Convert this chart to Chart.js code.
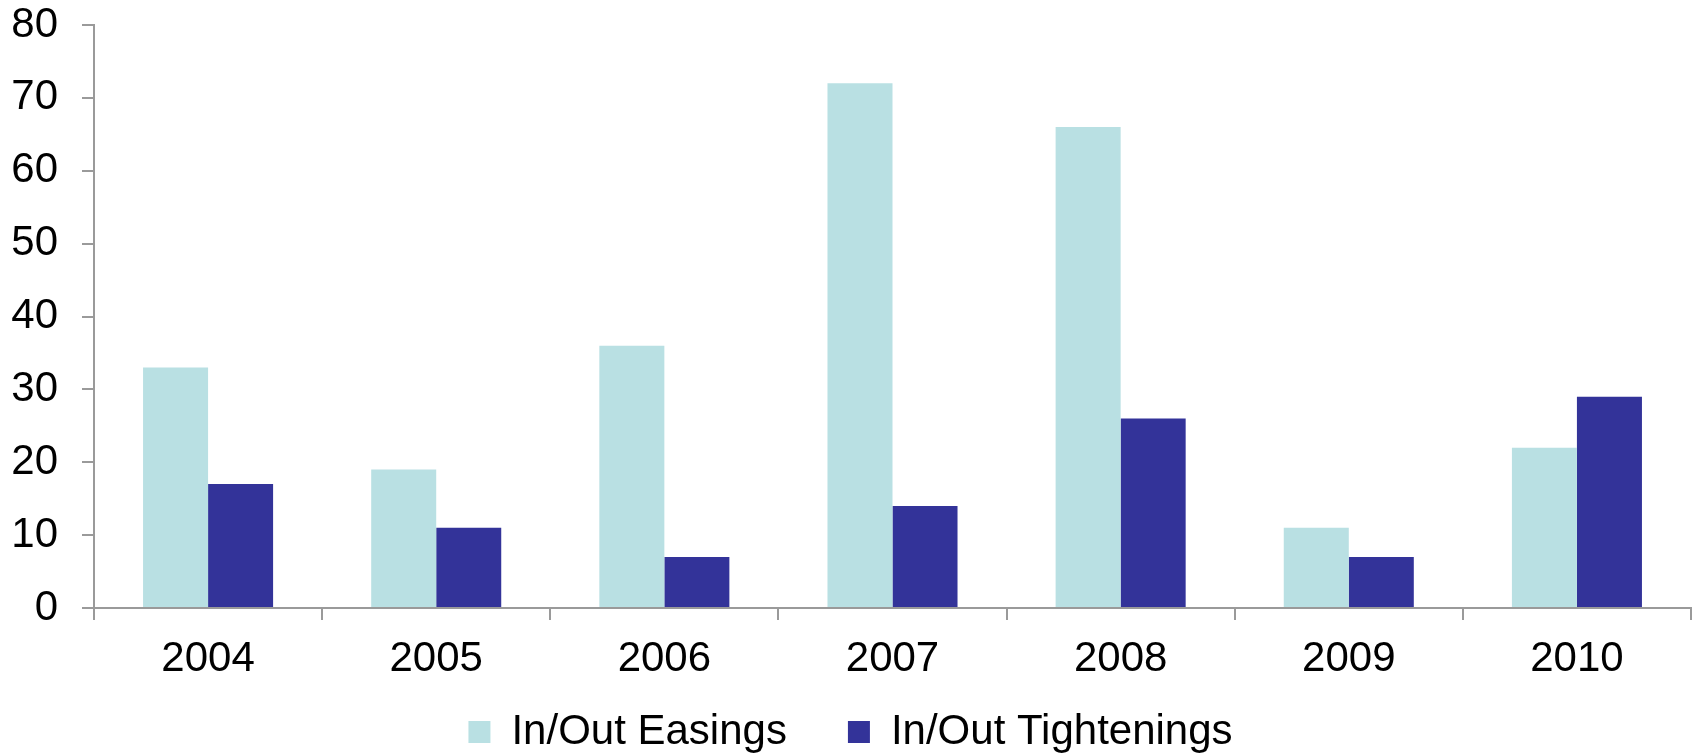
<!DOCTYPE html>
<html>
<head>
<meta charset="utf-8">
<script src="https://cdn.jsdelivr.net/npm/chart.js@4"></script>
<style>
  html, body { margin: 0; padding: 0; background: #fff; }
  #wrap { width: 1696px; height: 755px; }
</style>
</head>
<body>
<div id="wrap"><canvas id="easingsChart"></canvas></div>
<script>
const years = ["2004", "2005", "2006", "2007", "2008", "2009", "2010"];
const easings = [33, 19, 36, 72, 66, 11, 22];
const tightenings = [17, 11, 7, 14, 26, 7, 29];
const yTicks = [0, 10, 20, 30, 40, 50, 60, 70, 80];

const axisGrey = "#9a9a9a";
Chart.defaults.font.family = "'Liberation Sans', Arial, sans-serif";
Chart.defaults.color = "#000";

const ctx = document.getElementById("easingsChart");
new Chart(ctx, {
    type: "bar",
    data: {
        labels: years,
        datasets: [
            {
                label: "In/Out Easings",
                data: easings,
                backgroundColor: "#B9E0E3",
                categoryPercentage: 0.57,
                barPercentage: 1.0,
            },
            {
                label: "In/Out Tightenings",
                data: tightenings,
                backgroundColor: "#333399",
                categoryPercentage: 0.57,
                barPercentage: 1.0,
            },
        ],
    },
    options: {
        responsive: true,
        maintainAspectRatio: false,
        animation: false,
        layout: { padding: { top: 25, right: 5, bottom: -8, left: 10 } },
        plugins: {
            tooltip: { enabled: false },
            legend: {
                position: "bottom",
                labels: {
                    font: { size: 42 },
                    boxWidth: 22,
                    boxHeight: 22,
                    padding: 26,
                    // widen the gap between the two legend entries
                    generateLabels: (chart) =>
                        Chart.defaults.plugins.legend.labels.generateLabels(chart).map((item, i) =>
                            i === 0 ? { ...item, text: item.text + "   " } : item
                        ),
                },
            },
        },
        scales: {
            x: {
                grid: {
                    offset: true,
                    drawOnChartArea: false,
                    drawTicks: true,
                    tickLength: 12,
                    color: axisGrey,
                    lineWidth: 2,
                },
                border: { color: axisGrey, width: 2 },
                ticks: { font: { size: 42 }, padding: 14 },
                afterFit: (scale) => { scale.height = 77; },
            },
            y: {
                min: 0,
                max: 80,
                afterBuildTicks: (scale) => { scale.ticks = yTicks.map((v) => ({ value: v })); },
                grid: {
                    drawOnChartArea: false,
                    drawTicks: true,
                    tickLength: 12,
                    color: axisGrey,
                    lineWidth: 2,
                },
                border: { color: axisGrey, width: 2 },
                ticks: { font: { size: 42 }, padding: 24 },
                afterFit: (scale) => {
                    scale.width = 84;
                    scale.paddingTop = 0;
                    scale.paddingBottom = 0;
                },
            },
        },
    },
});
</script>
</body>
</html>
